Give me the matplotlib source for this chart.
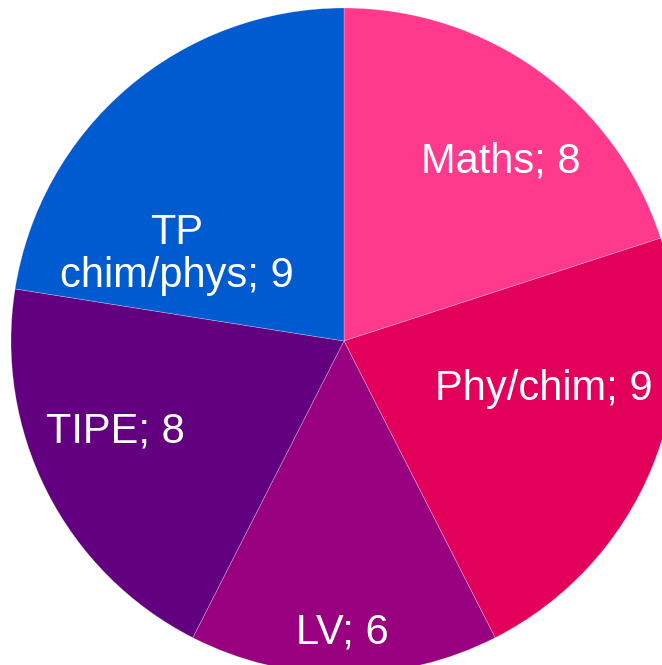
import matplotlib
matplotlib.use("Agg")
import matplotlib.pyplot as plt

categories = ["Maths", "Phy/chim", "LV", "TIPE", "TP chim/phys"]
values = [8, 9, 6, 8, 9]
colors = ["#FF3A8C", "#E2005A", "#99007F", "#62007F", "#005AD0"]

# label anchor positions (layout, in axes data units, pie radius = 1)
label_pos = [(0.470, 0.5045), (0.599, -0.177), (-0.006, -0.907),
             (-0.688, -0.306), (-0.503, 0.162)]

fig = plt.figure(figsize=(6.62, 6.65), dpi=100)
fig.patch.set_facecolor("white")
ax = fig.add_axes([0, 0, 1, 1])

labels = [f"{c}; {v}".replace("TP ", "TP\n") for c, v in zip(categories, values)]
wedges, texts = ax.pie(values, labels=labels, colors=colors, startangle=90,
                       counterclock=False, radius=1.0,
                       wedgeprops=dict(edgecolor=(1, 1, 1, 0.35), linewidth=0.5),
                       textprops=dict(color="white", fontsize=30,
                                      family=["Liberation Sans", "DejaVu Sans"]))
for t, (x, y) in zip(texts, label_pos):
    t.set_position((x, y))
    t.set_horizontalalignment("center")
    t.set_verticalalignment("baseline")
    t.set_multialignment("center")
    t.set_linespacing(1.1)

ax.set_xlim(-1.033, 0.955)
ax.set_ylim(-0.973, 1.024)
ax.set_aspect("auto")
ax.axis("off")

fig.savefig("out.png", dpi=100, facecolor="white")
